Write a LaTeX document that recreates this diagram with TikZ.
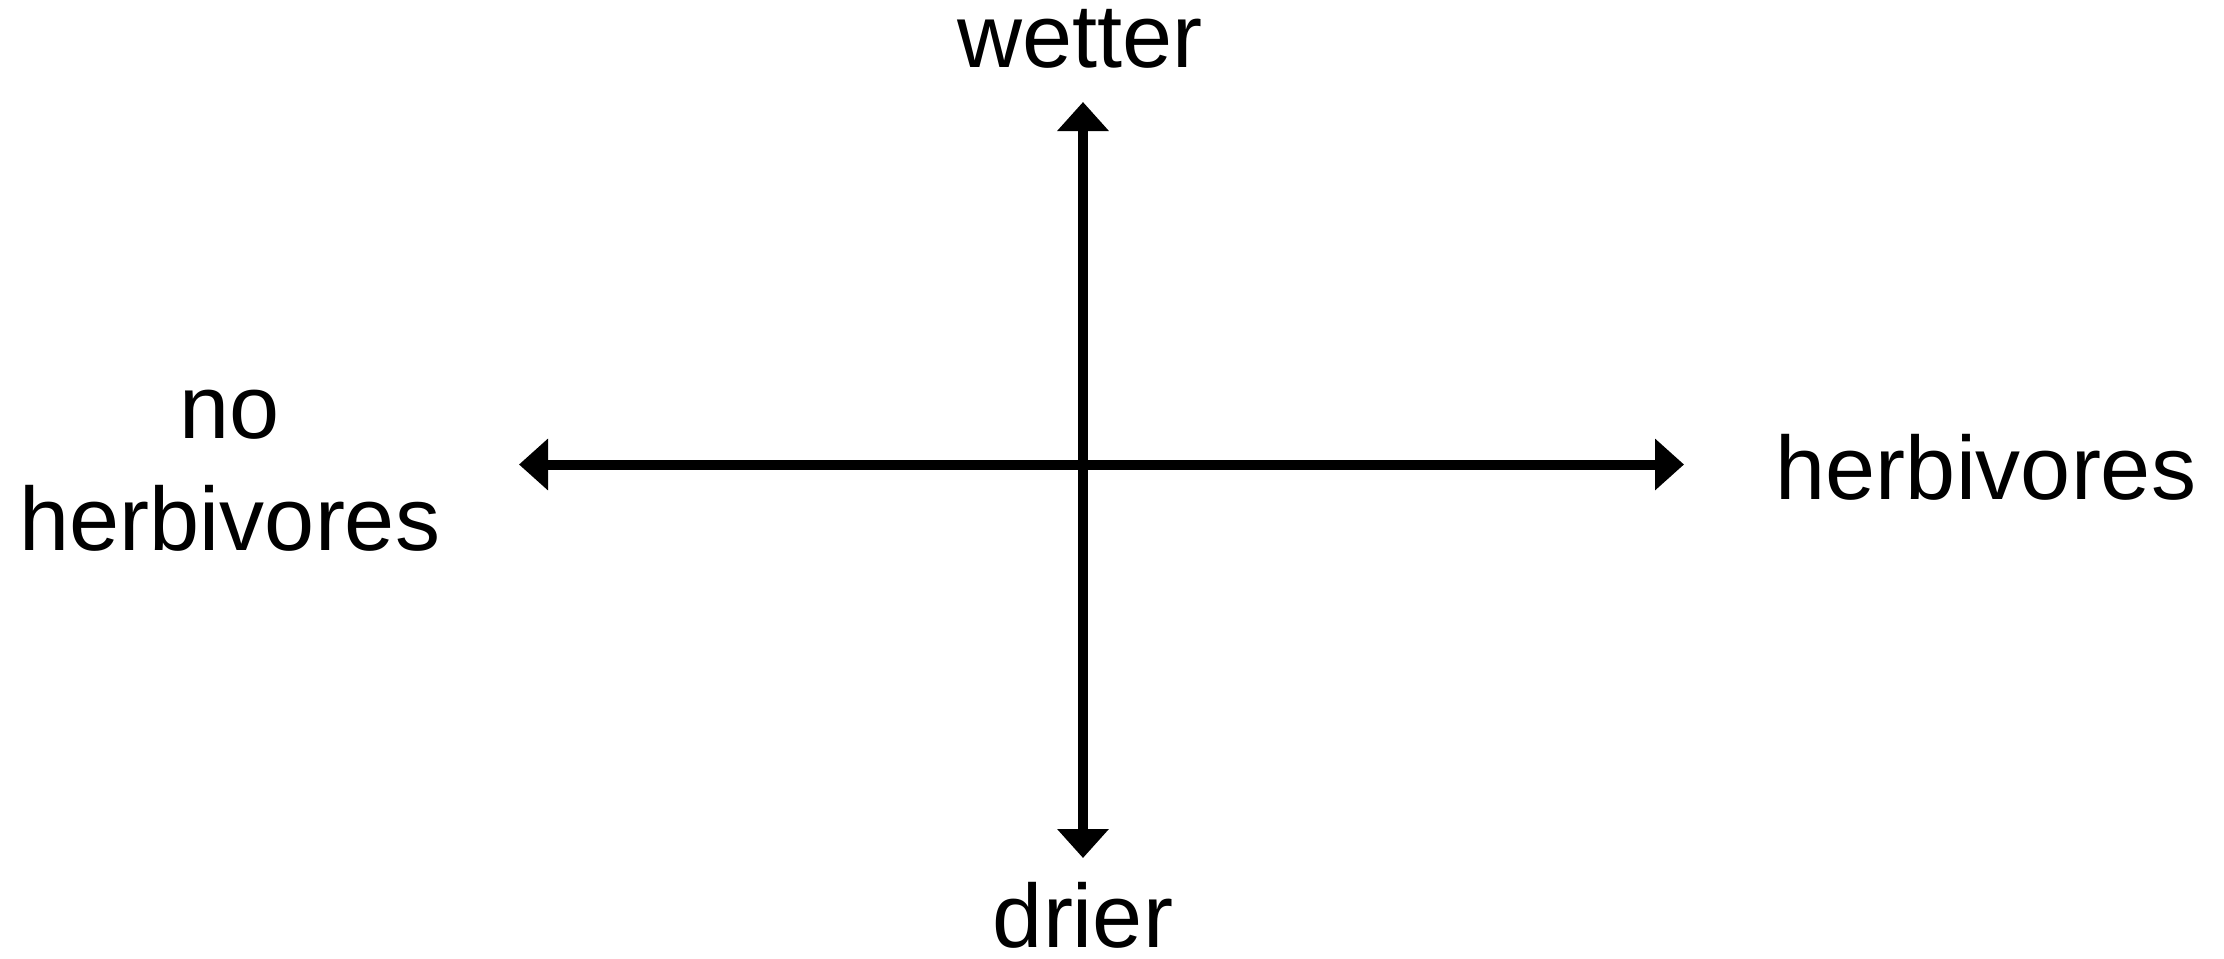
\documentclass[tikz,border=0pt]{standalone}
\usepackage{fontspec}
\setmainfont{Liberation Sans}
\usetikzlibrary{arrows.meta}
\begin{document}
\begin{tikzpicture}[x=0.5pt,y=-0.5pt,
  axis/.style={line width=5pt,{Triangle[width=25pt,length=14.5pt]}-{Triangle[width=25pt,length=14.5pt]}},
  lbl/.style={font=\fontsize{45pt}{56pt}\selectfont,inner sep=0pt,anchor=base,text height=0.74em,text depth=0pt}]
\useasboundingbox (0,0) rectangle (2224,959);
\coordinate (top) at (1083,102);
\coordinate (bot) at (1083,858);
\coordinate (left) at (519,464.5);
\coordinate (right) at (1684,464.5);
\draw[axis] (bot) -- (top);
\draw[axis] (left) -- (right);
\node[lbl] (wet) at (1080,67) {wetter};
\node[lbl] (dry) at (1083,947) {drier};
\node[lbl] (herb) at (1986,499) {herbivores};
\node[lbl] (no) at (230,438) {no};
\node[lbl] (noherb) at (230,550) {herbivores};
\end{tikzpicture}
\end{document}
